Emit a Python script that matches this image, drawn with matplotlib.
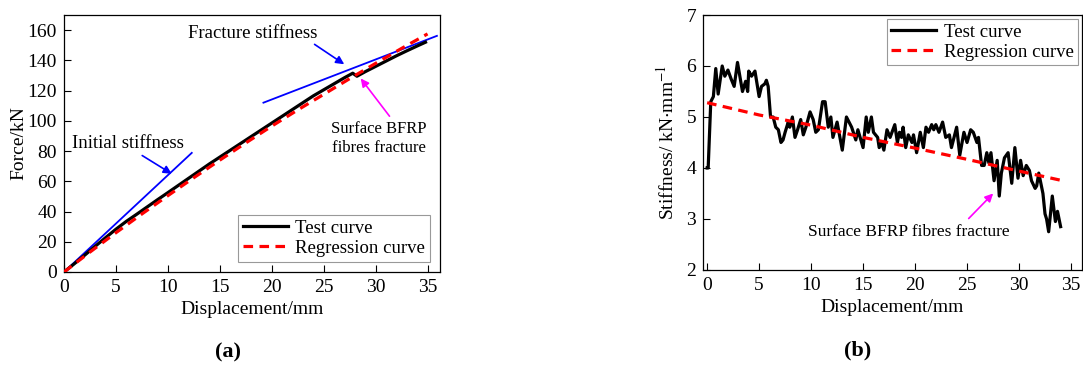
import matplotlib
matplotlib.use("Agg")
import matplotlib.pyplot as plt

plt.rcParams['font.family'] = ['Liberation Serif', 'DejaVu Serif']
plt.rcParams['mathtext.fontset'] = 'stix'

# ---------- (a) force-displacement ----------
test_disp = [0, 1, 2, 3, 4, 5, 6, 7, 8, 9, 10, 12, 14, 16, 18, 20, 22, 24, 26, 27.0, 27.8, 28.0, 28.2, 29, 30, 31, 32, 33, 34, 34.8]
test_force = [0, 5.5, 11.2, 17, 22.7, 28.3, 33.5, 38.2, 43, 47.8, 52.5, 62, 71.5, 80.5, 89.5, 98.5, 107.5, 116.5, 124.5, 128.5, 131.5, 130.5, 129.5, 132.5, 136, 139.5, 143, 146.3, 149.5, 152]
reg_disp = [0, 2.5, 5, 7.5, 10, 12.5, 15, 17.5, 20, 22.5, 25, 27.5, 30, 32.5, 35]
reg_force = [0, 13.2, 26, 38.4, 50.5, 62.4, 74, 85.4, 96.5, 107.2, 117.5, 127.9, 138, 147.9, 157.5]
init_line_x = [0, 12.3]
init_line_y = [0, 78.8]
frac_line_x = [19.2, 35.9]
frac_line_y = [112, 156.2]

# ---------- (b) stiffness-displacement ----------
stiff_disp = [0, 0.1, 0.35, 0.6, 0.83, 1.06, 1.45, 1.7, 2.0, 2.3, 2.6, 2.92, 3.4, 3.7, 3.9, 4.0, 4.27, 4.6, 5.0, 5.23, 5.55, 5.7, 5.87,
              6.1, 6.35, 6.6, 6.85, 7.1, 7.3, 7.5, 7.8, 7.95, 8.2, 8.45, 8.7, 9.0, 9.25, 9.5, 9.9, 10.2, 10.45, 10.7, 11.1, 11.35,
              11.65, 11.9, 12.1, 12.5, 13.0, 13.4, 13.65, 13.9, 14.3, 14.5, 15.0, 15.3, 15.5, 15.8, 16.0, 16.4, 16.55, 16.8, 17.0,
              17.3, 17.6, 18.05, 18.3, 18.5, 18.7, 18.85, 19.1, 19.35, 19.7, 19.85, 20.15, 20.5, 20.8, 21.05, 21.3, 21.6, 21.8,
              22.0, 22.3, 22.65, 22.95, 23.3, 23.5, 24.0, 24.3, 24.7, 25.0, 25.35, 25.6, 25.95, 26.1, 26.4, 26.65, 26.9, 27.1,
              27.3, 27.6, 27.9, 28.1, 28.3, 28.6, 28.95, 29.3, 29.6, 29.9, 30.15, 30.4, 30.7, 31.0, 31.2, 31.55, 31.7, 31.9,
              32.3, 32.5, 32.65, 32.85, 33.2, 33.5, 33.7, 34.0]
stiff_val = [4.0, 4.0, 5.3, 5.4, 5.95, 5.45, 6.0, 5.8, 5.92, 5.75, 5.6, 6.07, 5.5, 5.7, 5.5, 5.9, 5.8, 5.9, 5.4, 5.6, 5.65, 5.72, 5.6,
             5.0, 5.0, 4.8, 4.75, 4.5, 4.55, 4.7, 4.9, 4.8, 5.0, 4.6, 4.75, 4.95, 4.65, 4.8, 5.1, 4.95, 4.7, 4.75, 5.3, 5.3,
             4.8, 5.0, 4.6, 4.9, 4.35, 5.0, 4.9, 4.8, 4.55, 4.75, 4.4, 5.0, 4.7, 5.0, 4.7, 4.6, 4.4, 4.5, 4.35,
             4.75, 4.6, 4.85, 4.5, 4.7, 4.6, 4.8, 4.4, 4.65, 4.5, 4.65, 4.3, 4.7, 4.4, 4.8, 4.7, 4.85, 4.75,
             4.85, 4.7, 4.9, 4.6, 4.65, 4.4, 4.8, 4.25, 4.7, 4.5, 4.75, 4.7, 4.5, 4.6, 4.05, 4.05, 4.3, 4.1,
             4.3, 3.75, 4.15, 3.45, 3.9, 4.2, 4.3, 3.7, 4.4, 3.8, 4.15, 3.85, 4.05, 3.95, 3.75, 3.6, 3.65, 3.9,
             3.5, 3.1, 3.0, 2.75, 3.45, 2.95, 3.15, 2.85]
reg_k_disp = [0, 5, 10, 15, 20, 25, 30, 34]
reg_k_val = [5.28, 5.04, 4.84, 4.60, 4.39, 4.17, 3.94, 3.76]

fig = plt.figure(figsize=(10.83, 3.65), dpi=100)
axa = fig.add_axes([0.0591, 0.2548, 0.3472, 0.7041])
axb = fig.add_axes([0.6491, 0.2603, 0.3500, 0.6986])

FS = 14
for ax in (axa, axb):
    ax.tick_params(direction='in', length=5, width=0.8, labelsize=FS, top=False, right=False, pad=5)
    for s in ax.spines.values():
        s.set_linewidth(0.9)

# panel (a)
axa.plot(init_line_x, init_line_y, color='#0000ff', lw=1.3, zorder=2)
axa.plot(frac_line_x, frac_line_y, color='#0000ff', lw=1.3, zorder=2)
axa.plot(test_disp, test_force, color='black', lw=2.3, label='Test curve', zorder=3)
axa.plot(reg_disp, reg_force, color='red', lw=2.3, ls=(0, (3, 2)), label='Regression curve', zorder=4)
axa.set_xlim(0, 36.2)
axa.set_ylim(0, 170)
axa.set_xticks([0, 5, 10, 15, 20, 25, 30, 35])
axa.set_yticks(range(0, 161, 20))
axa.set_xlabel('Displacement/mm', fontsize=FS, labelpad=4)
axa.set_ylabel('Force/kN', fontsize=FS, labelpad=0)
axa.text(6.2, 85, 'Initial stiffness', fontsize=13.5, ha='center', va='center')
axa.annotate('', xy=(10.6, 64), xytext=(7.3, 78),
             arrowprops=dict(arrowstyle='-|>', color='#0000ff', lw=1.2, mutation_scale=12))
axa.text(18.2, 157.5, 'Fracture stiffness', fontsize=13.5, ha='center', va='center')
axa.annotate('', xy=(27.2, 136.4), xytext=(23.9, 151.6),
             arrowprops=dict(arrowstyle='-|>', color='#0000ff', lw=1.2, mutation_scale=12))
axa.text(30.3, 88, 'Surface BFRP\nfibres fracture', fontsize=12, ha='center', va='center', linespacing=1.25)
axa.annotate('', xy=(28.4, 129.5), xytext=(31.5, 101.6),
             arrowprops=dict(arrowstyle='-|>', color='#ff00ff', lw=1.2, mutation_scale=12))
lega = axa.legend(loc='lower right', fontsize=13.5, frameon=True, fancybox=False, edgecolor='#808080',
                  handlelength=2.4, borderpad=0.25, labelspacing=0.15, handletextpad=0.4,
                  borderaxespad=0.55)
lega.get_frame().set_linewidth(0.8)

# panel (b)
axb.plot(stiff_disp, stiff_val, color='black', lw=2.3, label='Test curve', zorder=3)
axb.plot(reg_k_disp, reg_k_val, color='red', lw=2.3, ls=(0, (3, 2)), label='Regression curve', zorder=4)
axb.set_xlim(-0.4, 36.06)
axb.set_ylim(2, 7)
axb.set_xticks([0, 5, 10, 15, 20, 25, 30, 35])
axb.set_yticks([2, 3, 4, 5, 6, 7])
axb.set_xlabel('Displacement/mm', fontsize=FS, labelpad=4)
axb.set_ylabel('Stiffness/ kN$\\cdot$mm$^{-1}$', fontsize=FS, labelpad=6)
axb.text(19.4, 2.75, 'Surface BFRP fibres fracture', fontsize=12.5, ha='center', va='center')
axb.annotate('', xy=(27.7, 3.54), xytext=(24.97, 2.97),
             arrowprops=dict(arrowstyle='-|>', color='#ff00ff', lw=1.2, mutation_scale=12))
legb = axb.legend(loc='upper right', fontsize=13.5, frameon=True, fancybox=False, edgecolor='#808080',
                  handlelength=2.4, borderpad=0.25, labelspacing=0.15, handletextpad=0.4,
                  borderaxespad=0.2)
legb.get_frame().set_linewidth(0.8)

fig.text(228 / 1083, 1 - 352 / 365, '(a)', fontsize=16, fontweight='bold', ha='center', va='center')
fig.text(858 / 1083, 1 - 350 / 365, '(b)', fontsize=16, fontweight='bold', ha='center', va='center')

fig.savefig('out.png', dpi=100)
